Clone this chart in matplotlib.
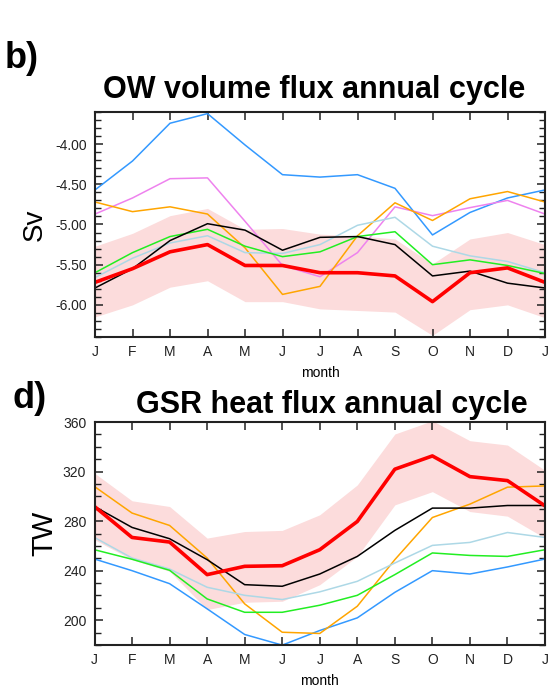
import matplotlib
matplotlib.use("Agg")
import matplotlib.pyplot as plt
from matplotlib.ticker import MultipleLocator

plt.rcParams['font.family'] = ['Liberation Sans', 'DejaVu Sans']

months = ["J", "F", "M", "A", "M", "J", "J", "A", "S", "O", "N", "D", "J"]

# OW volume flux (Sv)
ow_blue = [-4.57, -4.21, -3.74, -3.62, -4.01, -4.38, -4.41, -4.38, -4.55, -5.13, -4.85, -4.67, -4.57]
ow_violet = [-4.87, -4.67, -4.43, -4.42, -4.96, -5.51, -5.65, -5.35, -4.78, -4.89, -4.79, -4.70, -4.87]
ow_orange = [-4.72, -4.84, -4.78, -4.87, -5.29, -5.87, -5.77, -5.14, -4.73, -4.95, -4.68, -4.59, -4.72]
ow_black = [-5.79, -5.55, -5.20, -4.99, -5.07, -5.32, -5.16, -5.15, -5.25, -5.64, -5.58, -5.73, -5.79]
ow_green = [-5.60, -5.35, -5.15, -5.06, -5.27, -5.40, -5.34, -5.15, -5.09, -5.50, -5.44, -5.51, -5.61]
ow_ltblue = [-5.66, -5.42, -5.23, -5.14, -5.35, -5.36, -5.25, -5.01, -4.91, -5.27, -5.39, -5.46, -5.60]
ow_red = [-5.72, -5.55, -5.34, -5.25, -5.51, -5.51, -5.60, -5.60, -5.64, -5.96, -5.60, -5.54, -5.72]
ow_upper = [-5.27, -5.11, -4.89, -4.80, -5.06, -5.05, -5.12, -5.14, -5.18, -5.49, -5.18, -5.10, -5.25]
ow_lower = [-6.15, -6.00, -5.78, -5.70, -5.96, -5.96, -6.05, -6.07, -6.09, -6.38, -6.06, -6.00, -6.16]

# GSR heat flux (TW)
gsr_blue = [249.4, 240.0, 229.5, 209.2, 188.5, 179.9, 191.7, 201.9, 222.5, 240.0, 237.3, 243.0, 249.4]
gsr_orange = [307.9, 286.5, 276.5, 250.2, 213.2, 190.3, 189.3, 211.3, 248.9, 282.9, 293.7, 307.4, 308.4]
gsr_black = [291.8, 274.9, 265.8, 248.9, 228.7, 227.4, 237.3, 251.5, 272.5, 290.5, 290.5, 292.6, 292.6]
gsr_green = [256.9, 249.2, 240.3, 217.2, 206.4, 206.4, 212.1, 220.1, 236.8, 254.3, 252.3, 251.5, 256.9]
gsr_ltblue = [266.8, 250.2, 241.3, 226.6, 220.1, 216.7, 222.9, 231.4, 246.2, 260.4, 262.8, 270.8, 266.8]
gsr_red = [291.8, 266.8, 263.1, 236.8, 243.5, 244.0, 256.9, 279.7, 321.9, 332.6, 315.9, 312.7, 292.3]
gsr_upper = [318.7, 296.4, 291.8, 266.3, 271.6, 272.5, 285.1, 309.2, 350.3, 361.0, 344.9, 341.4, 321.0]
gsr_lower = [265.0, 248.9, 239.5, 208.6, 214.5, 215.3, 228.7, 251.5, 293.1, 303.8, 287.7, 284.0, 266.3]

BLUE = "#3399ff"
VIOLET = "#ee82ee"
ORANGE = "#ffa500"
GREEN = "#22ee22"
LTBLUE = "#add8e6"
BAND = "#fcdcdc"

x = list(range(len(months)))

fig = plt.figure(figsize=(5.57, 6.92), dpi=100)
W, H = 557, 692

def make_ax(l, t, r, b):
    return fig.add_axes([l / W, 1 - b / H, (r - l) / W, (b - t) / H])

def style(ax):
    ax.set_xlim(0, 12)
    ax.set_xticks(x)
    ax.set_xticklabels(months, fontsize=10)
    ax.tick_params(axis='both', which='both', direction='in', top=True, right=True,
                   colors='#222222', labelcolor='#222222')
    ax.tick_params(axis='both', which='major', length=6, width=1.1, pad=6)
    ax.tick_params(axis='y', which='minor', length=4, width=1.0)
    ax.tick_params(axis='y', labelsize=10)
    for s in ax.spines.values():
        s.set_linewidth(1.5)
        s.set_color('#222222')
    ax.set_xlabel("month", fontsize=10, labelpad=5)

lw = 1.1
# top panel
ax1 = make_ax(95, 112, 545, 337)
ax1.fill_between(x, ow_lower, ow_upper, color=BAND, lw=0)
ax1.plot(x, ow_blue, color=BLUE, lw=lw)
ax1.plot(x, ow_violet, color=VIOLET, lw=lw)
ax1.plot(x, ow_orange, color=ORANGE, lw=lw)
ax1.plot(x, ow_ltblue, color=LTBLUE, lw=lw)
ax1.plot(x, ow_green, color=GREEN, lw=lw)
ax1.plot(x, ow_black, color='black', lw=lw)
ax1.plot(x, ow_red, color='red', lw=2.6)
ax1.set_ylim(-6.4, -3.6)
ax1.yaxis.set_major_locator(MultipleLocator(0.5))
ax1.yaxis.set_minor_locator(MultipleLocator(0.1))
ax1.yaxis.set_major_formatter(matplotlib.ticker.FormatStrFormatter('%.2f'))
style(ax1)
ax1.set_yticks([-6.0, -5.5, -5.0, -4.5, -4.0])
ax1.set_ylabel("Sv", fontsize=20, labelpad=5)

# bottom panel
ax2 = make_ax(94.5, 422, 545, 645)
ax2.fill_between(x, gsr_lower, gsr_upper, color=BAND, lw=0)
ax2.plot(x, gsr_blue, color=BLUE, lw=lw)
ax2.plot(x, gsr_orange, color=ORANGE, lw=lw)
ax2.plot(x, gsr_ltblue, color=LTBLUE, lw=lw)
ax2.plot(x, gsr_green, color=GREEN, lw=lw)
ax2.plot(x, gsr_black, color='black', lw=lw)
ax2.plot(x, gsr_red, color='red', lw=2.6)
ax2.set_ylim(180, 360)
ax2.yaxis.set_major_locator(MultipleLocator(40))
ax2.yaxis.set_minor_locator(MultipleLocator(10))
style(ax2)
ax2.set_yticks([200, 240, 280, 320, 360])
ax2.set_ylabel("TW", fontsize=21, labelpad=3)

fig.text(5 / W, 1 - 58 / H, "b)", fontsize=26, fontweight='bold', va='center', ha='left')
fig.text(314 / W, 1 - 90 / H, "OW volume flux annual cycle", fontsize=22, fontweight='bold',
         va='center', ha='center')
fig.text(13 / W, 1 - 398 / H, "d)", fontsize=26, fontweight='bold', va='center', ha='left')
fig.text(332 / W, 1 - 405 / H, "GSR heat flux annual cycle", fontsize=22, fontweight='bold',
         va='center', ha='center')

fig.savefig("out.png", dpi=100, facecolor='white')
